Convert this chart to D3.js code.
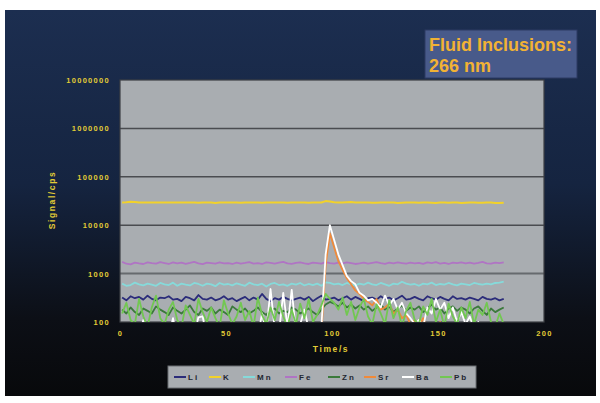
<!DOCTYPE html>
<html>
<head>
<meta charset="utf-8">
<script src="https://cdn.jsdelivr.net/npm/d3@7"></script>
<style>
  body { margin: 0; background: #fff; }
  svg { display: block; font-family: "Liberation Sans", Arial, sans-serif; }
</style>
</head>
<body>
<div id="chart"></div>
<script>
// sample times (s)
var times = [1,3,5,7,9,11,13,15,17,19,21,23,25,27,29,31,33,35,37,39,
  41,43,45,47,49,51,53,55,57,59,61,63,65,67,69,71,73,75,77,79,
  81,83,85,87,89,91,93,95,97,99,101,103,105,107,109,111,113,115,117,119,
  121,123,125,127,129,131,133,135,137,139,141,143,145,147,149,151,153,155,157,159,
  161,163,165,167,169,171,173,175,177,179,181];

var li = [320,280,340,310,330,290,350,300,280,320,
  310,340,290,300,270,330,310,280,360,300,
  290,320,280,300,340,290,310,270,300,330,
  280,320,290,380,300,270,310,290,330,300,
  280,300,320,290,330,270,310,350,290,300,
  320,280,310,340,290,330,300,270,310,320,
  290,340,300,320,280,310,350,290,300,330,
  300,280,340,310,290,330,300,280,340,300,
  310,290,320,300,280,330,300,290,310,280,300];

var k = [29500,29800,30500,30200,29400,29600,29300,29500,29400,29600,
  29300,29500,29400,29300,29600,29400,29500,29300,29200,29500,
  29400,29300,28900,29300,29400,29500,29300,29400,29200,29500,
  29300,29400,29500,29200,29300,29400,29500,29300,29400,29200,
  29300,29500,29400,29300,29200,29400,29300,29500,31500,30800,
  29800,29600,29400,29800,30000,29600,29400,29500,29300,29000,
  29200,29400,29300,29500,29400,28900,29200,29400,29300,29500,
  29000,29300,29400,29200,28900,29300,29400,29200,29500,29300,
  28800,29100,29300,29500,29200,29000,29300,29400,28800,28600,29200];

var mn = [620,560,580,650,600,570,620,590,560,640,
  600,580,650,560,620,590,570,640,610,560,
  620,600,550,640,590,610,570,630,590,560,
  650,600,580,620,540,610,640,580,600,560,
  620,590,640,570,610,580,620,560,660,640,
  600,620,580,640,600,570,620,590,650,600,
  580,640,600,560,620,600,680,620,590,610,
  560,620,600,650,580,610,590,640,600,570,
  620,600,580,640,610,590,620,600,640,650,680];

var fe = [1750,1600,1550,1680,1620,1580,1700,1640,1600,1720,
  1650,1580,1700,1620,1680,1590,1660,1750,1620,1570,
  1680,1640,1600,1700,1620,1650,1580,1690,1610,1660,
  1720,1600,1640,1580,1700,1660,1610,1680,1750,1620,
  1590,1660,1700,1620,1580,1680,1650,1600,1720,1640,
  1600,1680,1620,1700,1650,1580,1620,1690,1600,1660,
  1720,1640,1590,1680,1620,1700,1650,1600,1680,1620,
  1660,1590,1700,1640,1720,1610,1660,1580,1690,1640,
  1700,1620,1680,1600,1660,1740,1620,1600,1680,1650,1700];

var zn = [180,150,200,160,140,190,170,150,210,180,
  160,140,200,170,150,180,220,160,140,190,
  170,200,150,180,160,140,210,180,160,190,
  150,170,200,160,140,180,190,150,170,160,
  200,180,150,170,190,160,140,180,230,260,
  240,210,250,200,230,190,220,180,210,170,
  200,230,180,210,160,190,220,170,200,180,
  210,160,190,230,180,200,150,190,210,170,
  200,180,150,190,210,170,140,190,160,180,200];

var sr = [40,30,50,35,45,30,40,50,35,30,
  45,40,30,50,35,40,30,45,50,35,
  30,40,45,35,50,30,40,35,45,30,
  40,50,35,30,45,40,35,50,30,40,
  45,35,40,30,50,45,35,60,1500,6800,
  3500,1800,1200,800,600,450,380,300,260,220,
  300,180,200,240,150,180,120,140,90,110,
  80,120,70,90,60,100,50,80,60,90,
  50,70,40,80,50,40,45,35,40,30,40];

var ba = [50,40,60,45,55,110,50,40,60,45,
  55,50,120,45,60,50,40,55,125,130,
  45,60,50,40,55,60,45,50,40,55,
  60,45,50,150,60,480,70,60,400,80,
  460,60,90,180,70,60,50,80,2500,10000,
  5000,2500,1500,900,700,600,400,350,280,300,
  250,200,350,220,300,180,250,150,120,90,
  110,80,200,150,300,180,250,120,200,100,
  160,90,130,70,100,60,50,55,45,50,40];

var pb = [150,250,110,90,300,130,80,200,350,120,
  90,180,260,110,80,220,140,90,300,160,
  100,200,120,80,280,150,90,130,250,110,
  170,80,320,140,90,200,110,260,130,80,
  180,90,240,120,300,100,140,220,380,300,
  250,180,320,140,260,110,200,300,130,90,
  230,150,90,280,120,200,80,170,250,110,
  90,210,140,300,100,180,80,240,130,90,
  200,120,260,90,180,140,250,100,80,150,90];

var names = ["Li","K","Mn","Fe","Zn","Sr","Ba","Pb"];
var colors = ["#2b2c7a","#f2d22a","#86dada","#b074c4","#3b7a3b","#f08a3a","#ffffff","#72c752"];
var seriesVals = [li,k,mn,fe,zn,sr,ba,pb];

var yTicks = [100,1000,10000,100000,1000000,10000000];
var xTicks = [0,50,100,150,200];

var W = 600, H = 403;
var svg = d3.select("#chart").append("svg").attr("width", W).attr("height", H);

var defs = svg.append("defs");
var grad = defs.append("linearGradient").attr("id", "bg").attr("x1", 0).attr("y1", 0).attr("x2", 0).attr("y2", 1);
grad.append("stop").attr("offset", "0%").attr("stop-color", "#1c2e50");
grad.append("stop").attr("offset", "45%").attr("stop-color", "#152440");
grad.append("stop").attr("offset", "80%").attr("stop-color", "#0c0f16");
grad.append("stop").attr("offset", "100%").attr("stop-color", "#08090b");

svg.append("rect").attr("x", 5).attr("y", 10).attr("width", 591).attr("height", 386).attr("fill", "url(#bg)");

var x = d3.scaleLinear().domain([0, 200]).range([120, 544]);
var y = d3.scaleLog().domain([100, 10000000]).range([322, 80]);

defs.append("clipPath").attr("id", "plotclip")
  .append("rect").attr("x", 120).attr("y", 80).attr("width", 424).attr("height", 242);

// plot area
svg.append("rect").attr("x", 120).attr("y", 80).attr("width", 424).attr("height", 242)
  .attr("fill", "#a9adb1");

svg.append("g").selectAll("line").data(yTicks.slice(1, -1)).join("line")
  .attr("x1", 120).attr("x2", 544)
  .attr("y1", function (d) { return y(d); }).attr("y2", function (d) { return y(d); })
  .attr("stroke", function (d) { return d === 1000 ? "#666a6e" : "#4a4c50"; })
  .attr("stroke-width", function (d) { return d === 1000 ? 2 : 1.5; });

svg.append("rect").attr("x", 120).attr("y", 80).attr("width", 424).attr("height", 242)
  .attr("fill", "none").attr("stroke", "#3c3f44").attr("stroke-width", 1.2);

// y axis
var yAxis = d3.axisLeft(y).tickValues(yTicks).tickFormat(d3.format("d")).tickSize(0).tickPadding(10);
var gy = svg.append("g").attr("transform", "translate(120,0)").call(yAxis);
gy.select(".domain").remove();
gy.selectAll("text").attr("fill", "#e2cc36").attr("font-size", 7.5).attr("font-weight", "bold")
  .attr("letter-spacing", 1.3);

// x axis
var xAxis = d3.axisBottom(x).tickValues(xTicks).tickSize(0).tickPadding(9);
var gx = svg.append("g").attr("transform", "translate(0,322)").call(xAxis);
gx.select(".domain").remove();
gx.selectAll("text").attr("fill", "#e2cc36").attr("font-size", 7.5).attr("font-weight", "bold")
  .attr("letter-spacing", 1.3);

svg.append("text").attr("transform", "translate(55,200) rotate(-90)")
  .attr("text-anchor", "middle").attr("fill", "#e2cc36").attr("font-size", 8.5)
  .attr("font-weight", "bold").attr("letter-spacing", 1.6).text("Signal/cps");

svg.append("text").attr("x", 331).attr("y", 352)
  .attr("text-anchor", "middle").attr("fill", "#e2cc36").attr("font-size", 8.5)
  .attr("font-weight", "bold").attr("letter-spacing", 1.6).text("Time/s");

// series
var line = d3.line()
  .x(function (d, i) { return x(times[i]); })
  .y(function (d) { return y(Math.max(d, 20)); });

var lines = svg.append("g").attr("clip-path", "url(#plotclip)");
seriesVals.forEach(function (vals, j) {
  lines.append("path").datum(vals)
    .attr("d", line)
    .attr("fill", "none")
    .attr("stroke", colors[j])
    .attr("stroke-width", j === 1 ? 2 : 1.8)
    .attr("stroke-linejoin", "round");
});

// legend
var lg = svg.append("g");
lg.append("rect").attr("x", 168).attr("y", 366).attr("width", 308).attr("height", 22)
  .attr("fill", "#a9adb1").attr("stroke", "#6a6e72");
var legX = [174, 209, 243, 285, 328, 364, 402, 440];
names.forEach(function (n, j) {
  lg.append("line").attr("x1", legX[j]).attr("x2", legX[j] + 12)
    .attr("y1", 377).attr("y2", 377).attr("stroke", colors[j]).attr("stroke-width", 2);
  lg.append("text").attr("x", legX[j] + 14).attr("y", 380)
    .attr("fill", "#222630").attr("font-size", 8).attr("font-weight", "bold")
    .attr("letter-spacing", 2).text(n);
});

// title box
svg.append("rect").attr("x", 425).attr("y", 30).attr("width", 152).attr("height", 48)
  .attr("fill", "#485a8a").attr("stroke", "#2c3a62");
svg.append("text").attr("x", 429).attr("y", 51).attr("fill", "#f2b234")
  .attr("font-size", 18).attr("font-weight", "bold").text("Fluid Inclusions:");
svg.append("text").attr("x", 429).attr("y", 72).attr("fill", "#f2b234")
  .attr("font-size", 18).attr("font-weight", "bold").text("266 nm");
</script>
</body>
</html>
